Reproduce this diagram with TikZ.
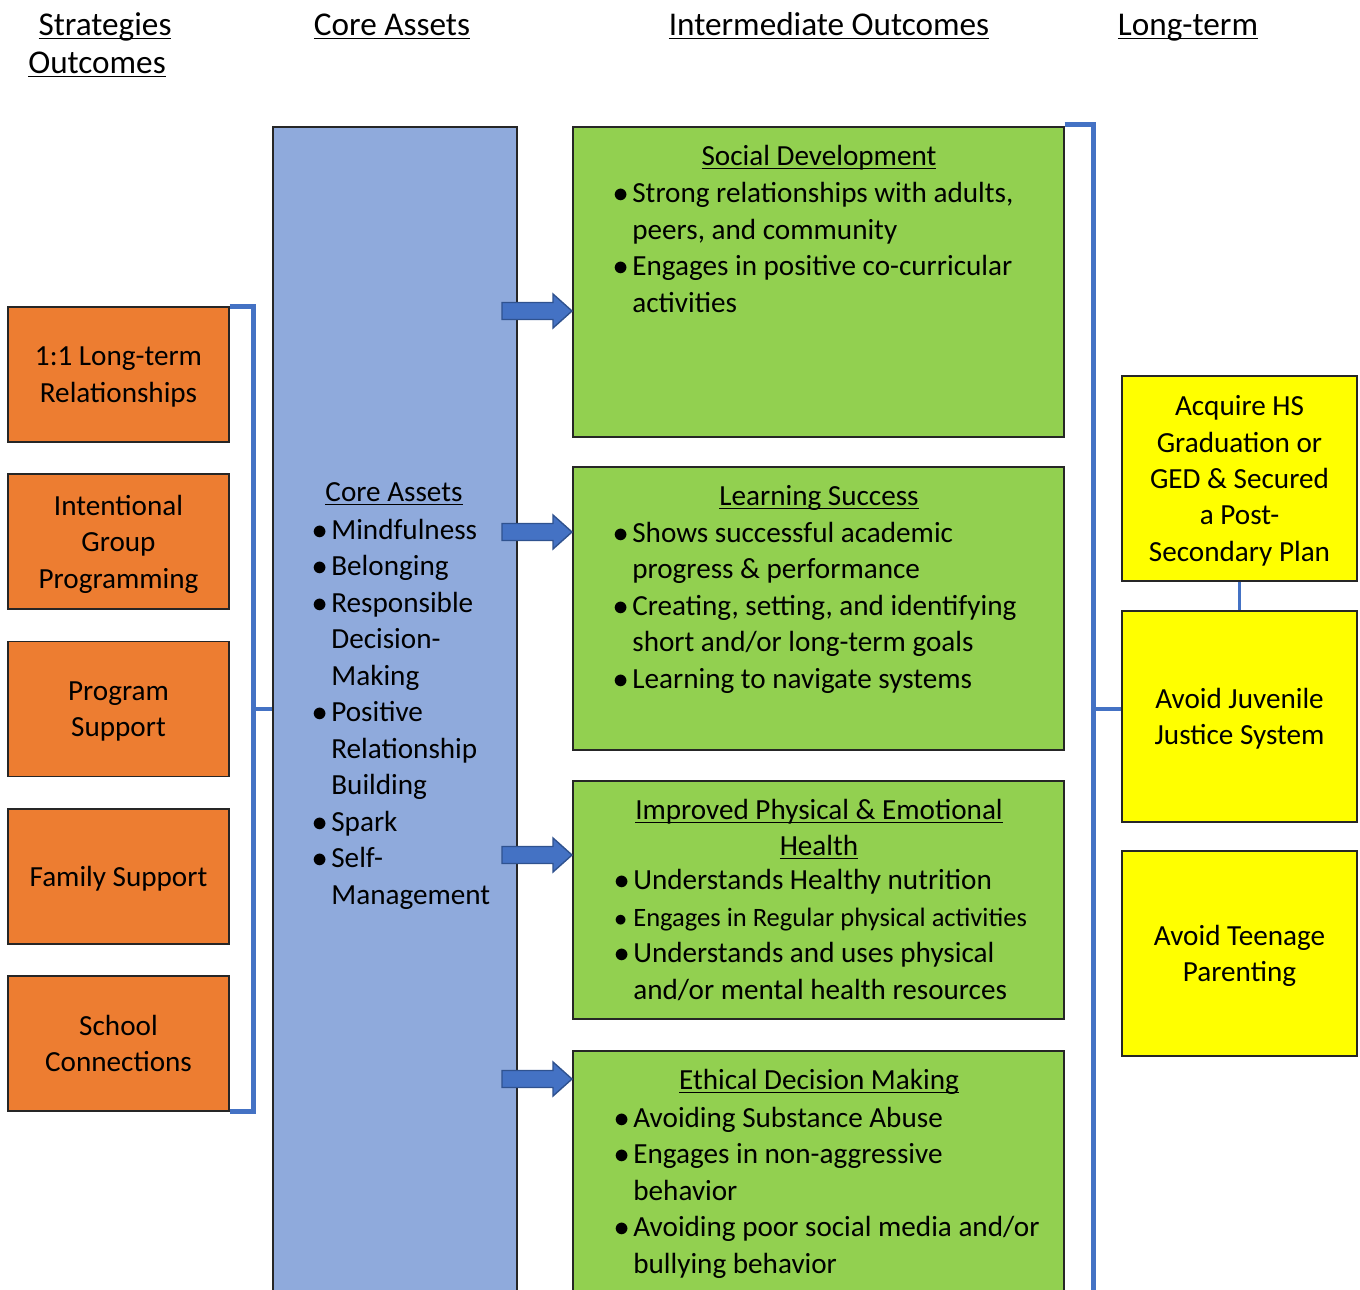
\documentclass[tikz,border=0pt]{standalone}
\usepackage{fontspec}
\setmainfont{Carlito}
\usetikzlibrary{calc,positioning}
\definecolor{orng}{HTML}{ED7D31}
\definecolor{coreblue}{HTML}{8FAADC}
\definecolor{lgreen}{HTML}{92D050}
\definecolor{lyellow}{HTML}{FFFF00}
\definecolor{lineblue}{HTML}{4472C4}
\definecolor{darkblue}{HTML}{2F528F}
\newlength{\ulwd}
\newcommand{\ulin}[1]{\settowidth{\ulwd}{#1}\rlap{\rule[-2.4pt]{\ulwd}{0.9pt}}#1}
\newcommand{\bul}{\makebox[0.38cm][l]{$\bullet$}}
\newcommand{\cnt}{\hspace*{0.38cm}}

\begin{document}
\begin{tikzpicture}[x=0.02cm, y=-0.02cm,
  txt/.style={font=\fontsize{16.6}{20.75}\selectfont, inner sep=0pt},
  box/.style={draw=black!85, line width=0.8pt, txt, align=center, text depth=0pt},
  obox/.style={box, fill=orng, minimum width=4.42cm, minimum height=2.7cm},
  ybox/.style={box, fill=lyellow, minimum width=4.7cm},
  gbox/.style={box, fill=lgreen, minimum width=9.82cm},
  lst/.style={txt, align=left, anchor=base west},
  hd/.style={txt, anchor=base},
  colhd/.style={hd, font=\fontsize{18.9}{23}\selectfont},
  brk/.style={draw=lineblue, line width=2.8pt},
  barrow/.style={fill=lineblue, draw=darkblue, line width=0.8pt}]
  \useasboundingbox (0,0) rectangle (1360,1289);

  % column titles
  \node[colhd] (hstrat) at (105,35) {\ulin{Strategies}};
  \node[colhd] (hout) at (97,73) {\ulin{Outcomes}};
  \node[colhd] (hcore) at (392,35) {\ulin{Core Assets}};
  \node[colhd] (hinter) at (829,35) {\ulin{Intermediate Outcomes}};
  \node[colhd] (hlong) at (1188,35) {\ulin{Long-term}};

  % strategies
  \node[obox] (s1) at (118.5,374.5) {1:1 Long-term\\Relationships};
  \node[obox] (s2) at (118.5,541.5) {Intentional\\Group\\Programming};
  \node[obox] (s3) at (118.5,709) {Program\\Support};
  \node[obox] (s4) at (118.5,876.5) {Family Support};
  \node[obox] (s5) at (118.5,1043.5) {School\\Connections};

  % core assets (base = last line)
  \node[box, fill=coreblue, minimum width=4.88cm, minimum height=23.5cm] (core) at (395,714.5) {};
  \node[hd] (tc) at (394,501) {\ulin{Core Assets}};
  \node[lst] (lc) at (312,904) {\bul Mindfulness\\\bul Belonging\\\bul Responsible\\\cnt Decision-\\\cnt Making\\\bul Positive\\\cnt Relationship\\\cnt Building\\\bul Spark\\\bul Self-\\\cnt Management};

  % intermediate outcomes
  \node[gbox, minimum height=6.2cm] (g1) at (818.5,282) {};
  \node[gbox, minimum height=5.66cm] (g2) at (818.5,608.5) {};
  \node[gbox, minimum height=4.76cm] (g3) at (818.5,900) {};
  \node[gbox, minimum height=5.02cm] (g4) at (818.5,1176.5) {};

  \node[hd] (t1) at (819,165) {\ulin{Social Development}};
  \node[lst] (l1) at (613,312) {\bul Strong relationships with adults,\\\cnt peers, and community\\\bul Engages in positive co-curricular\\\cnt activities};
  \node[hd] (t2) at (819,505) {\ulin{Learning Success}};
  \node[lst] (l2) at (613,688) {\bul Shows successful academic\\\cnt progress \& performance\\\bul Creating, setting, and identifying\\\cnt short and/or long-term goals\\\bul Learning to navigate systems};
  \node[hd] (t3) at (819,819) {\ulin{Improved Physical \& Emotional}};
  \node[hd] (t3b) at (819,855) {\ulin{Health}};
  \node[lst] (l3) at (614,999) {\bul Understands Healthy nutrition\\{\fontsize{15.1}{20.75}\selectfont\bul Engages in Regular physical activities}\\\bul Understands and uses physical\\\cnt and/or mental health resources};
  \node[hd] (t4) at (819,1089) {\ulin{Ethical Decision Making}};
  \node[lst] (l4) at (614,1273) {\bul Avoiding Substance Abuse\\\bul Engages in non-aggressive\\\cnt behavior\\\bul Avoiding poor social media and/or\\\cnt bullying behavior};

  % long-term outcomes
  \node[ybox, minimum height=4.1cm] (y1) at (1239.5,478.5) {Acquire HS\\Graduation or\\GED \& Secured\\a Post-\\Secondary Plan};
  \node[ybox, minimum height=4.22cm] (y2) at (1239.5,716.5) {Avoid Juvenile\\Justice System};
  \node[ybox, minimum height=4.1cm] (y3) at (1239.5,953.5) {Avoid Teenage\\Parenting};

  % block arrows
  \foreach \y in {311,532,855,1079}
    \draw[barrow] (502,\y) ++(0,-8.5) -- ++(51,0) -- ++(0,-8.5) -- ++(19,17) -- ++(-19,17) -- ++(0,-8.5) -- ++(-51,0) -- cycle;

  % brackets
  \coordinate (lt) at (253,709);
  \coordinate (rt) at (1093,709);
  \draw[brk] (s1.north east) -- ++(24,0) |- (s5.south east);
  \draw[brk] (lt) -- (lt -| core.west);
  \draw[brk] (g1.north east) ++(0,-2) -- ++(29,0) -- ++(0,1200);
  \draw[brk] (rt) -- (rt -| y2.west);
  \draw[lineblue, line width=1.6pt] (y1.south) -- (y2.north);
\end{tikzpicture}
\end{document}
